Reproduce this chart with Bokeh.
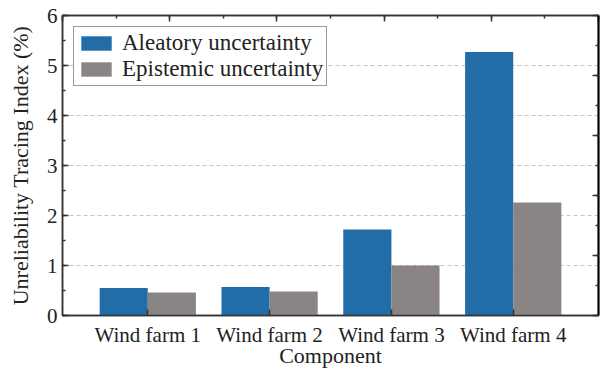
from bokeh.plotting import figure
from bokeh.models import (ColumnDataSource, Range1d, LinearAxis, FixedTicker,
                          SingleIntervalTicker, Legend, LegendItem)
from bokeh.transform import dodge
from bokeh.embed import file_html
from bokeh.resources import INLINE

# Unreliability tracing index (%) per wind farm
components = ["Wind farm 1", "Wind farm 2", "Wind farm 3", "Wind farm 4"]
aleatory = [0.55, 0.57, 1.72, 5.27]
epistemic = [0.46, 0.48, 1.00, 2.26]

BLUE = "#226ca7"
GRAY = "#8a8484"
FONT = "Liberation Serif"
AXIS_COLOR = "#333333"

# components placed at 1, 2, 3, ... on a numeric axis
pos = list(range(1, len(components) + 1))
source = ColumnDataSource(dict(pos=pos, component=components,
                               aleatory=aleatory, epistemic=epistemic))

p = figure(
    width=600, height=370,
    x_range=Range1d(0.3, len(components) + 0.7),
    y_range=Range1d(0, 6),
    output_backend="svg", toolbar_location=None,
    min_border_left=62, min_border_right=2, min_border_top=15, min_border_bottom=10,
    background_fill_color="white", border_fill_color="white",
)
p.outline_line_color = AXIS_COLOR
p.outline_line_width = 1.5

bw = 0.395
r_ale = p.vbar(x=dodge("pos", -bw / 2), top="aleatory", width=bw,
               source=source, fill_color=BLUE, line_color=None)
r_epi = p.vbar(x=dodge("pos", bw / 2), top="epistemic", width=bw,
               source=source, fill_color=GRAY, line_color=None)

# grid
p.xgrid.grid_line_color = None
p.ygrid.grid_line_color = "#c4c4c4"
p.ygrid.grid_line_dash = "4 3"
p.ygrid.grid_line_width = 1

# left axis
p.yaxis.ticker = SingleIntervalTicker(interval=1, num_minor_ticks=2)
p.yaxis.axis_label = "Unreliability Tracing Index (%)"
p.yaxis.axis_label_standoff = 11

# bottom axis: one labelled tick per component
p.xaxis.ticker = FixedTicker(ticks=pos, minor_ticks=[])
p.xaxis.major_label_overrides = {k: c for k, c in zip(pos, components)}
p.xaxis.axis_label = "Component"
p.xaxis.axis_label_standoff = -7

for ax in (p.xaxis[0], p.yaxis[0]):
    ax.axis_line_color = AXIS_COLOR
    ax.axis_line_width = 1.5
    ax.major_tick_line_color = AXIS_COLOR
    ax.minor_tick_line_color = AXIS_COLOR
    ax.major_tick_line_width = 1.5
    ax.minor_tick_line_width = 1.5
    ax.major_tick_in = 6
    ax.major_tick_out = 0
    ax.minor_tick_in = 3
    ax.minor_tick_out = 0
    ax.major_label_text_font = FONT
    ax.major_label_text_font_size = "21px"
    ax.major_label_text_color = "#222222"
    ax.axis_label_text_font = FONT
    ax.axis_label_text_font_size = "22px"
    ax.axis_label_text_font_style = "normal"
    ax.axis_label_text_color = "#222222"

p.yaxis.major_label_standoff = 5
p.xaxis.major_label_standoff = 7

# mirrored frame axes on top and right (tick marks only, no labels)
p.extra_x_ranges = {"top": Range1d(0, 5)}
p.extra_y_ranges = {"right": Range1d(0, 5)}
top_ax = LinearAxis(x_range_name="top", ticker=SingleIntervalTicker(interval=1, num_minor_ticks=2))
right_ax = LinearAxis(y_range_name="right", ticker=SingleIntervalTicker(interval=1, num_minor_ticks=2))
for ax in (top_ax, right_ax):
    ax.axis_line_color = AXIS_COLOR
    ax.axis_line_width = 1.5
    ax.major_tick_line_color = AXIS_COLOR
    ax.minor_tick_line_color = AXIS_COLOR
    ax.major_tick_line_width = 1.5
    ax.minor_tick_line_width = 1.5
    ax.major_tick_in = 6
    ax.major_tick_out = 0
    ax.minor_tick_in = 3
    ax.minor_tick_out = 0
    ax.major_label_text_color = None
    ax.major_label_text_font_size = "1px"
    ax.major_label_standoff = 0
right_ax.axis_line_color = "#000000"
right_ax.axis_line_width = 2
p.add_layout(top_ax, "above")
p.add_layout(right_ax, "right")

legend = Legend(
    items=[LegendItem(label="Aleatory uncertainty", renderers=[r_ale]),
           LegendItem(label="Epistemic uncertainty", renderers=[r_epi])],
    location="top_left",
    label_text_font=FONT, label_text_font_size="23px", label_text_color="#222222",
    glyph_width=38, glyph_height=18, label_height=20, label_standoff=7,
    spacing=0, padding=3, margin=11,
    border_line_color=AXIS_COLOR, border_line_width=1.2,
    background_fill_color="white", background_fill_alpha=1.0,
)
p.add_layout(legend, "center")

open("out.html", "w").write(file_html(p, INLINE))
